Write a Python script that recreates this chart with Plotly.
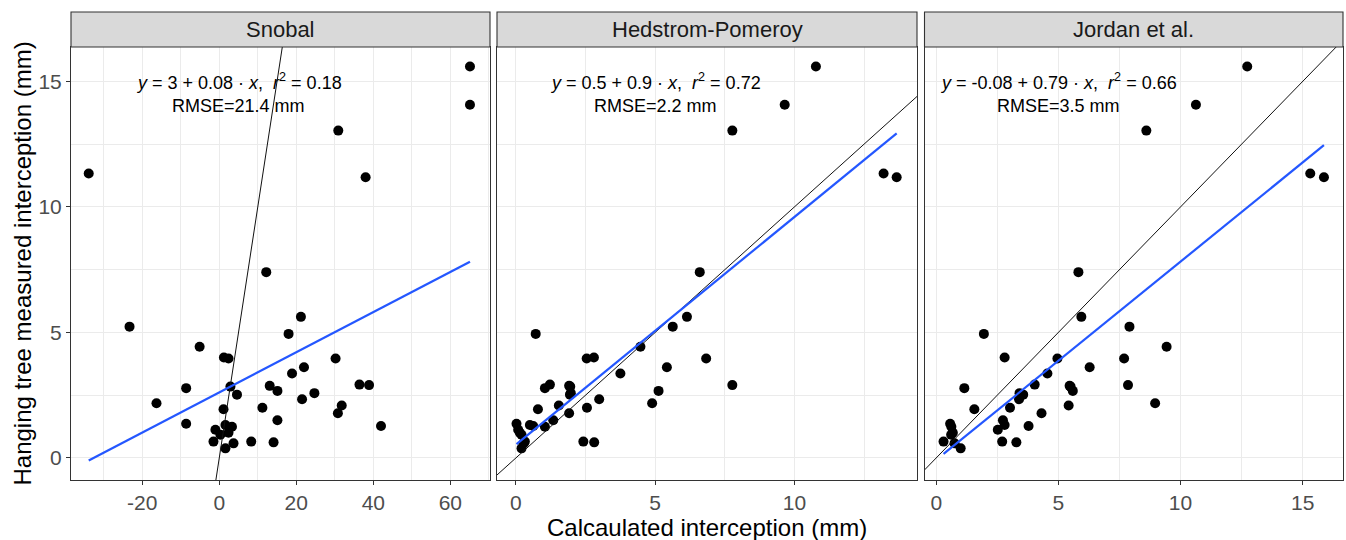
import plotly.graph_objects as go

# Hanging-tree measured interception (mm), one value per observation
measured = [15.59, 14.07, 13.04, 11.33, 11.18, 7.40, 5.62, 5.23, 4.94, 4.43,
            4.00, 3.96, 3.96, 3.61, 3.36, 2.90, 2.92, 2.87, 2.84, 2.78,
            2.67, 2.58, 2.52, 2.34, 2.18, 2.09, 2.00, 1.94, 1.78, 1.50,
            1.36, 1.31, 1.27, 1.24, 1.12, 1.00, 0.92, 0.65, 0.65, 0.62,
            0.58, 0.38]

# Calculated interception (mm) from each model, same observation order
snobal = [65.1, 65.1, 30.9, -33.9, 38.0, 12.2, 21.2, -23.3, 18.0, -5.1,
          1.2, 2.4, 30.2, 22.0, 18.9, 38.9, 36.4, 13.1, 2.9, -8.6,
          15.1, 24.7, 4.6, 21.5, -16.3, 31.8, 11.2, 1.1, 30.8, 15.1,
          -8.6, 1.6, 42.0, 3.3, -1.0, 2.4, 0.3, -1.5, 8.3, 14.1,
          3.7, 1.6]
hedstrom = [10.77, 9.65, 7.77, 13.20, 13.67, 6.60, 6.14, 5.63, 0.71, 4.47,
            2.80, 2.54, 6.83, 5.42, 3.75, 7.77, 1.22, 1.91, 1.95, 1.04,
            5.12, 1.97, 1.94, 2.99, 4.89, 1.54, 2.55, 0.79, 1.91, 1.34,
            0.02, 0.50, 0.62, 1.04, 0.08, 0.14, 0.20, 0.32, 2.42, 2.81,
            0.28, 0.20]
jordan = [12.73, 10.63, 8.60, 15.31, 15.87, 5.82, 5.94, 7.91, 1.95, 9.43,
          2.80, 4.96, 7.69, 6.28, 4.55, 7.85, 4.03, 5.46, 5.50, 1.15,
          5.59, 3.41, 3.56, 3.39, 8.96, 5.42, 3.02, 1.56, 4.31, 2.73,
          0.57, 2.80, 3.78, 0.62, 2.52, 0.68, 0.61, 0.30, 2.70, 3.28,
          0.75, 1.00]

panels = ["Snobal", "Hedstrom-Pomeroy", "Jordan et al."]
calculated = [snobal, hedstrom, jordan]

# Linear fit per model and its summary statistics
intercepts = [2.61, 0.53, -0.08]
slopes = [0.080, 0.907, 0.79]
intercept_digits = [1, 1, 1]
slope_digits = [1, 1, 2]
r_squared = [0.18, 0.72, 0.66]
rmse = [21.4, 2.2, 3.5]

# axis ranges and tick positions
x_ranges = [[-38.5, 70.3], [-0.68, 14.4], [-0.48, 16.65]]
x_tickvals = [[-20, 0, 20, 40, 60], [0, 5, 10], [0, 5, 10, 15]]
x_dticks = [20, 5, 5]
y_range = [-0.88, 16.37]
y_tickvals = [0, 5, 10, 15]

FONT = "Liberation Sans, Arial, sans-serif"
BORDER = "#333333"
GRID = "#EBEBEB"

# plot area in pixels: left 71, right 1343, top 47, bottom 480
W, H = 1346, 540
ML, MR, MT, MB = 71, 3, 47, 60
PW = W - ML - MR
PH = H - MT - MB
panel_px = [(71, 490), (497, 917), (924.5, 1343)]
domains = [[(a - ML) / PW, (b - ML) / PW] for a, b in panel_px]
strip_h = 35 / PH


def tick_text(values):
    # plain hyphen for negative numbers
    return [str(v) for v in values]


fig = go.Figure()
annotations = []
shapes = []

for i, name in enumerate(panels):
    xs = calculated[i]
    sfx = "" if i == 0 else str(i + 1)
    xa, ya = "x" + sfx, "y" + sfx

    fig.add_trace(go.Scatter(
        x=xs, y=measured, mode="markers", xaxis=xa, yaxis=ya,
        marker=dict(color="black", size=10, line=dict(width=0)),
        showlegend=False, hoverinfo="x+y"))

    # 1:1 reference line across the whole panel
    lo, hi = x_ranges[i]
    fig.add_trace(go.Scatter(
        x=[lo, hi], y=[lo, hi], mode="lines", xaxis=xa, yaxis=ya,
        line=dict(color="#111111", width=1), showlegend=False,
        hoverinfo="skip"))

    # fitted regression over the data range
    x0, x1 = min(xs), max(xs)
    fig.add_trace(go.Scatter(
        x=[x0, x1],
        y=[intercepts[i] + slopes[i] * x0, intercepts[i] + slopes[i] * x1],
        mode="lines", xaxis=xa, yaxis=ya,
        line=dict(color="#2457FF", width=2.2), showlegend=False,
        hoverinfo="skip"))

    fig.update_layout(**{
        "xaxis" + sfx: dict(
            domain=domains[i], range=x_ranges[i], anchor=ya,
            tickmode="array", tickvals=x_tickvals[i],
            ticktext=tick_text(x_tickvals[i]),
            minor=dict(tickmode="linear", tick0=0, dtick=x_dticks[i] / 2,
                       showgrid=True, gridcolor=GRID, gridwidth=0.6),
            showgrid=True, gridcolor=GRID, gridwidth=1.2,
            zeroline=False, showline=True, mirror=True,
            linecolor=BORDER, linewidth=1.1,
            ticks="outside", ticklen=4, tickwidth=1.1, tickcolor=BORDER,
            tickfont=dict(family=FONT, size=21, color="#4D4D4D")),
        "yaxis" + sfx: dict(
            domain=[0, 1], range=y_range, anchor=xa,
            tickmode="array", tickvals=y_tickvals,
            ticktext=tick_text(y_tickvals),
            minor=dict(tickmode="linear", tick0=0, dtick=2.5,
                       showgrid=True, gridcolor=GRID, gridwidth=0.6),
            showgrid=True, gridcolor=GRID, gridwidth=1.2,
            zeroline=False, showline=True, mirror=True,
            linecolor=BORDER, linewidth=1.1,
            ticks="outside" if i == 0 else "",
            ticklen=4, tickwidth=1.1, tickcolor=BORDER,
            showticklabels=(i == 0),
            tickfont=dict(family=FONT, size=21, color="#4D4D4D")),
    })

    # facet strip
    shapes.append(dict(
        type="rect", xref="paper", yref="paper",
        x0=domains[i][0], x1=domains[i][1], y0=1, y1=1 + strip_h,
        fillcolor="#D9D9D9", line=dict(color=BORDER, width=1.1),
        layer="above"))
    annotations.append(dict(
        xref="paper", yref="paper",
        x=(domains[i][0] + domains[i][1]) / 2, y=1 + strip_h / 2,
        text=name, showarrow=False, xanchor="center", yanchor="middle",
        font=dict(family=FONT, size=22, color="#1A1A1A")))

    b = f"{intercepts[i]:.{intercept_digits[i]}g}"
    m = f"{slopes[i]:.{slope_digits[i]}g}"
    eq = (f"<i>y</i> = {b} + {m} · <i>x</i>,  "
          f"<i>r</i><sup>2</sup> = {r_squared[i]:.2f}")
    annotations.append(dict(
        xref=xa, yref=ya, x=5, y=15, text=eq, showarrow=False,
        xanchor="center", yanchor="middle",
        font=dict(family=FONT, size=18, color="black")))
    annotations.append(dict(
        xref=xa, yref=ya, x=5, y=14, text=f"RMSE={rmse[i]} mm",
        showarrow=False, xanchor="center", yanchor="middle",
        font=dict(family=FONT, size=18, color="black")))

annotations.append(dict(
    xref="paper", yref="paper", x=0.5, y=(480 - 527) / PH,
    text="Calcaulated interception (mm)", showarrow=False,
    xanchor="center", yanchor="middle",
    font=dict(family=FONT, size=24, color="black")))
annotations.append(dict(
    xref="paper", yref="paper", x=(22 - ML) / PW, y=0.5,
    text="Hanging tree measured interception (mm)", showarrow=False,
    textangle=-90, xanchor="center", yanchor="middle",
    font=dict(family=FONT, size=24, color="black")))

fig.update_layout(
    width=W, height=H,
    margin=dict(l=ML, r=MR, t=MT, b=MB),
    paper_bgcolor="white", plot_bgcolor="white",
    font=dict(family=FONT),
    annotations=annotations, shapes=shapes,
)

fig.write_html("out.html")
